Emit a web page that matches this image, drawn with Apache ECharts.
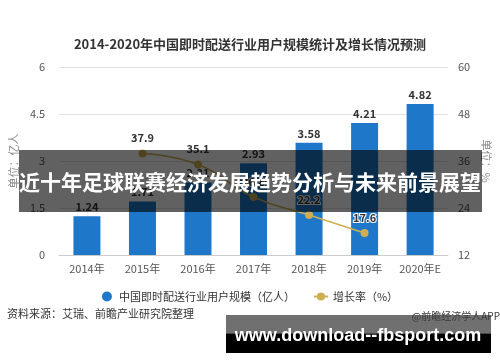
<!DOCTYPE html>
<html>
<head>
<meta charset="utf-8">
<script src="https://cdn.jsdelivr.net/npm/echarts@6/dist/echarts.min.js"></script>
<style>
html,body{margin:0;padding:0;background:#fff;}
#main{width:500px;height:362px;}
</style>
</head>
<body>
<div id="main"></div>
<script>
var categories = ['2014年', '2015年', '2016年', '2017年', '2018年', '2019年', '2020年E'];
var userScale = [1.24, 1.71, 2.31, 2.93, 3.58, 4.21, 4.82];
var growthRate = ['-', 37.9, 35.1, 26.8, 22.2, 17.6, '-'];
var leftTicks = { min: 0, max: 6, interval: 1.5 };
var rightTicks = { min: 12, max: 60, interval: 12 };
var titleText = '2014-2020年中国即时配送行业用户规模统计及增长情况预测';
var seriesNames = ['中国即时配送行业用户规模（亿人）', '增长率（%）'];
var sourceText = '资料来源：艾瑞、前瞻产业研究院整理';
var bannerText = '近十年足球联赛经济发展趋势分析与未来前景展望';
var siteText = 'www.download--fbsport.com';
var creditText = '@前瞻经济学人APP';

var FONT = '"Noto Sans CJK SC", "Noto Sans", sans-serif';
var chart = echarts.init(document.getElementById('main'), null, { renderer: 'canvas' });
var option = {
  backgroundColor: '#ffffff',
  animation: false,
  textStyle: { fontFamily: FONT },
  title: {
    text: titleText,
    left: 'center',
    top: 33,
    textStyle: { fontSize: 13, fontWeight: 'bold', color: '#333', fontFamily: FONT }
  },
  legend: {
    top: 286,
    left: 'center',
    itemGap: 18,
    itemWidth: 14,
    itemHeight: 10,
    textStyle: { fontSize: 11, color: '#333', fontFamily: FONT },
    data: [
      { name: seriesNames[0], icon: 'circle' },
      { name: seriesNames[1] }
    ]
  },
  grid: { left: 57, right: 49, top: 67, bottom: 107, containLabel: false },
  xAxis: {
    type: 'category',
    data: categories,
    axisLine: { lineStyle: { color: '#cccccc' } },
    axisTick: { show: false },
    axisLabel: { color: '#555', fontSize: 11, margin: 8, fontFamily: FONT }
  },
  yAxis: [
    {
      type: 'value',
      min: leftTicks.min, max: leftTicks.max, interval: leftTicks.interval,
      name: '单位：亿人',
      nameLocation: 'middle',
      nameGap: 38,
      nameTextStyle: { color: '#888', fontSize: 11, fontFamily: FONT },
      axisLine: { show: false },
      axisTick: { show: false },
      axisLabel: { color: '#555', fontSize: 11, margin: 14 },
      splitLine: { lineStyle: { color: '#e2e2e2' } }
    },
    {
      type: 'value',
      min: rightTicks.min, max: rightTicks.max, interval: rightTicks.interval,
      name: '单位：%',
      nameLocation: 'middle',
      nameRotate: -90,
      nameGap: 32,
      nameTextStyle: { color: '#888', fontSize: 11, fontFamily: FONT },
      axisLine: { show: false },
      axisTick: { show: false },
      axisLabel: { color: '#555', fontSize: 11, margin: 10 },
      splitLine: { show: false }
    }
  ],
  series: [
    {
      name: seriesNames[0],
      type: 'bar',
      data: userScale,
      barWidth: 27,
      itemStyle: { color: '#1f77c9' },
      label: { show: true, position: 'top', distance: 4, color: '#333', fontSize: 11, fontWeight: 'bold' }
    },
    {
      name: seriesNames[1],
      type: 'line',
      yAxisIndex: 1,
      data: growthRate,
      smooth: true,
      symbol: 'circle',
      symbolSize: 8,
      lineStyle: { color: '#cfae52', width: 1.5 },
      itemStyle: { color: '#cfae52' },
      label: {
        show: true, position: 'top', distance: 6, color: '#333', fontSize: 11, fontWeight: 'bold',
        textBorderColor: '#fff', textBorderWidth: 2
      }
    }
  ],
  graphic: [
    {
      type: 'text', left: 7, top: 308, z: 10,
      style: { text: sourceText, fill: '#333', font: '11px ' + FONT }
    },
    {
      type: 'rect', z: 20,
      shape: { x: 19, y: 150, width: 463, height: 62 },
      style: { fill: 'rgba(0,0,0,0.62)' }
    },
    {
      type: 'text', z: 21,
      x: 250, y: 182,
      style: {
        text: bannerText, fill: '#fff', font: 'bold 21px ' + FONT,
        textAlign: 'center', textVerticalAlign: 'middle'
      }
    },
    {
      type: 'rect', z: 20,
      shape: { x: 226, y: 315, width: 265, height: 38 },
      style: {
        fill: new echarts.graphic.LinearGradient(0, 0, 0, 1, [
          { offset: 0, color: '#707070' },
          { offset: 0.48, color: '#707070' },
          { offset: 0.5, color: '#000' },
          { offset: 1, color: '#000' }
        ])
      }
    },
    {
      type: 'text', z: 21, x: 500, y: 316,
      style: { text: creditText, fill: '#3a3a3a', font: '10px ' + FONT, textAlign: 'right', textVerticalAlign: 'middle' }
    },
    {
      type: 'text', z: 22,
      x: 358, y: 336,
      style: {
        text: siteText, fill: '#fff', font: 'bold 18px "Liberation Sans", Arial, sans-serif',
        textAlign: 'center', textVerticalAlign: 'middle'
      }
    }
  ]
};
chart.setOption(option);
</script>
</body>
</html>
